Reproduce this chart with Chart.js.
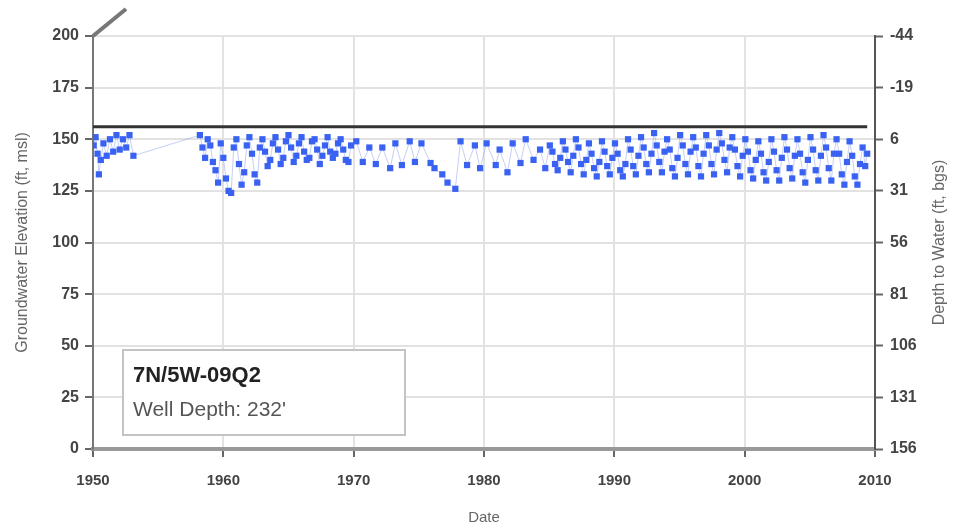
<!DOCTYPE html>
<html>
<head>
<meta charset="utf-8">
<script src="https://cdn.jsdelivr.net/npm/chart.js@4.4.0/dist/chart.umd.min.js"></script>
<style>
  html, body { margin: 0; padding: 0; background: #fff; }
</style>
</head>
<body>
<canvas id="wellChart" width="953" height="529"></canvas>
<script>
// well info
const wellName = '7N/5W-09Q2';
const wellDepth = "232'";

// axis ticks
const yearTicks = [1950, 1960, 1970, 1980, 1990, 2000, 2010];
const elevTicks = [0, 25, 50, 75, 100, 125, 150, 175, 200];
const depthTicks = [-44, -19, 6, 31, 56, 81, 106, 131, 156];

// ground surface elevation (ft, msl)
const groundDates = [1950, 2009.4];
const groundElev = [156, 156];

// measurement dates (decimal years)
const sampleDates = [
  1950.05, 1950.2, 1950.35, 1950.45, 1950.6, 1950.8, 1951.05, 1951.3, 1951.55, 1951.8, 1952.05, 1952.3, 1952.55, 1952.8, 1953.1,
  1958.2, 1958.4, 1958.6, 1958.8,
  1959.0, 1959.2, 1959.4, 1959.6, 1959.8,
  1960.0, 1960.2, 1960.4, 1960.6, 1960.8,
  1961.0, 1961.2, 1961.4, 1961.6, 1961.8,
  1962.0, 1962.2, 1962.4, 1962.6, 1962.8,
  1963.0, 1963.2, 1963.4, 1963.6, 1963.8,
  1964.0, 1964.2, 1964.4, 1964.6, 1964.8,
  1965.0, 1965.2, 1965.4, 1965.6, 1965.8,
  1966.0, 1966.2, 1966.4, 1966.6, 1966.8,
  1967.0, 1967.2, 1967.4, 1967.6, 1967.8,
  1968.0, 1968.2, 1968.4, 1968.6, 1968.8,
  1969.0, 1969.2, 1969.4, 1969.6, 1969.8,
  1970.2, 1970.7, 1971.2, 1971.7, 1972.2, 1972.8, 1973.2, 1973.7, 1974.3, 1974.7,
  1975.2, 1975.9, 1976.2, 1976.8, 1977.2, 1977.8,
  1978.2, 1978.7, 1979.3, 1979.7, 1980.2, 1980.9, 1981.2, 1981.8, 1982.2, 1982.8,
  1983.2, 1983.8, 1984.3, 1984.7,
  1985.05, 1985.25, 1985.45, 1985.65, 1985.85,
  1986.05, 1986.25, 1986.45, 1986.65, 1986.85,
  1987.05, 1987.25, 1987.45, 1987.65, 1987.85,
  1988.05, 1988.25, 1988.45, 1988.65, 1988.85,
  1989.05, 1989.25, 1989.45, 1989.65, 1989.85,
  1990.05, 1990.25, 1990.45, 1990.65, 1990.85,
  1991.05, 1991.25, 1991.45, 1991.65, 1991.85,
  1992.05, 1992.25, 1992.45, 1992.65, 1992.85,
  1993.05, 1993.25, 1993.45, 1993.65, 1993.85,
  1994.05, 1994.25, 1994.45, 1994.65, 1994.85,
  1995.05, 1995.25, 1995.45, 1995.65, 1995.85,
  1996.05, 1996.25, 1996.45, 1996.65, 1996.85,
  1997.05, 1997.25, 1997.45, 1997.65, 1997.85,
  1998.05, 1998.25, 1998.45, 1998.65, 1998.85,
  1999.05, 1999.25, 1999.45, 1999.65, 1999.85,
  2000.05, 2000.25, 2000.45, 2000.65, 2000.85,
  2001.05, 2001.25, 2001.45, 2001.65, 2001.85,
  2002.05, 2002.25, 2002.45, 2002.65, 2002.85,
  2003.05, 2003.25, 2003.45, 2003.65, 2003.85,
  2004.05, 2004.25, 2004.45, 2004.65, 2004.85,
  2005.05, 2005.25, 2005.45, 2005.65, 2005.85,
  2006.05, 2006.25, 2006.45, 2006.65, 2006.85,
  2007.05, 2007.25, 2007.45, 2007.65, 2007.85,
  2008.05, 2008.25, 2008.45, 2008.65, 2008.85,
  2009.05, 2009.25, 2009.4
];

// groundwater elevation (ft, msl)
const waterElev = [
  147, 151, 143, 133, 140, 148, 142, 150, 144, 152, 145, 150, 146, 152, 142,
  152, 146, 141, 150,
  147, 139, 135, 129, 148,
  141, 131, 125, 124, 146,
  150, 138, 128, 134, 147,
  151, 143, 133, 129, 146,
  150, 144, 137, 140, 148,
  151, 145, 138, 141, 149,
  152, 146, 139, 142, 148,
  151, 144, 140, 141, 149,
  150, 145, 138, 142, 147,
  151, 144, 141, 143, 148,
  150, 145, 140, 139, 147,
  149, 139, 146, 138, 146, 136, 148, 137.5, 149, 139,
  148, 138.5, 136, 133, 129, 126,
  149, 137.5, 147, 136, 148, 137.5, 145, 134, 148, 138.5,
  150, 140, 145, 136,
  147, 144, 138, 135, 141,
  149, 145, 139, 134, 142,
  150, 146, 138, 133, 140,
  148, 143, 136, 132, 139,
  149, 144, 137, 133, 141,
  148, 143, 135, 132, 138,
  150, 145, 137, 133, 142,
  151, 146, 138, 134, 143,
  153, 147, 139, 134, 144,
  150, 145, 136, 132, 141,
  152, 147, 138, 133, 144,
  151, 146, 137, 132, 143,
  152, 147, 138, 133, 145,
  153, 148, 140, 134, 146,
  151, 145, 137, 132, 142,
  150, 144, 135, 131, 140,
  149, 143, 134, 130, 139,
  150, 144, 135, 130, 141,
  151, 145, 136, 131, 142,
  150, 143, 134, 129, 140,
  151, 145, 135, 130, 142,
  152, 146, 136, 130, 143,
  150, 143, 133, 128, 139,
  149, 142, 132, 128, 138,
  146, 137, 143
];

const fontFamily = '"Liberation Sans", Arial, sans-serif';

// box with well name, right axis title, break mark
const chartDecor = {
  id: 'chartDecor',
  afterDraw(chart) {
    const { ctx, chartArea: a } = chart;
    ctx.save();

    // little slash at the top of the left axis
    ctx.strokeStyle = '#777';
    ctx.lineWidth = 4;
    ctx.beginPath();
    ctx.moveTo(a.left, a.top);
    ctx.lineTo(a.left + 33, a.top - 27);
    ctx.stroke();

    // well label box
    const bx = a.left + 30, by = a.top + 314, bw = 282, bh = 85;
    ctx.fillStyle = '#fff';
    ctx.fillRect(bx, by, bw, bh);
    ctx.strokeStyle = '#c4c4c4';
    ctx.lineWidth = 2;
    ctx.strokeRect(bx, by, bw, bh);
    ctx.textBaseline = 'middle';
    ctx.textAlign = 'left';
    ctx.fillStyle = '#222';
    ctx.font = 'bold 22px ' + fontFamily;
    ctx.fillText(wellName, bx + 10, by + 26);
    ctx.fillStyle = '#555';
    ctx.font = '21px ' + fontFamily;
    ctx.fillText('Well Depth: ' + wellDepth, bx + 10, by + 60);

    // right axis title, reads bottom to top
    ctx.translate(940, (a.top + a.bottom) / 2);
    ctx.rotate(-Math.PI / 2);
    ctx.textAlign = 'center';
    ctx.fillStyle = '#666';
    ctx.font = '16px ' + fontFamily;
    ctx.fillText('Depth to Water (ft, bgs)', 0, 0);
    ctx.restore();
  }
};

const elevPoints = sampleDates.map((d, i) => ({ x: d, y: waterElev[i] }));
const groundPoints = groundDates.map((d, i) => ({ x: d, y: groundElev[i] }));

new Chart(document.getElementById('wellChart'), {
  type: 'scatter',
  data: {
    datasets: [
      {
        label: 'Ground surface',
        data: groundPoints,
        showLine: true,
        borderColor: '#333',
        borderWidth: 3,
        pointRadius: 0
      },
      {
        label: wellName,
        data: elevPoints,
        showLine: true,
        borderColor: 'rgba(140,160,235,0.5)',
        borderWidth: 1,
        pointStyle: 'rect',
        pointRadius: 4.4,
        pointBackgroundColor: '#3a62f2',
        pointBorderWidth: 0
      }
    ]
  },
  options: {
    responsive: false,
    animation: false,
    layout: { padding: { top: 36, left: 0, right: 0, bottom: 0 } },
    plugins: { legend: { display: false }, tooltip: { enabled: false } },
    scales: {
      x: {
        type: 'linear',
        min: 1950,
        max: 2010,
        afterBuildTicks: s => { s.ticks = yearTicks.map(v => ({ value: v })); },
        afterFit: s => { s.height = 80; },
        grid: { color: '#e2e2e2', lineWidth: 2, tickColor: '#666', tickLength: 8, tickWidth: 2 },
        border: { color: '#999', width: 4 },
        ticks: {
          padding: 15,
          color: '#444',
          font: { family: fontFamily, size: 15, weight: 'bold' },
          callback: v => String(v)
        },
        title: {
          display: true,
          text: 'Date',
          color: '#666',
          font: { family: fontFamily, size: 15 },
          padding: { top: 4, bottom: 2 }
        }
      },
      y: {
        min: 0,
        max: 200,
        afterBuildTicks: s => { s.ticks = elevTicks.map(v => ({ value: v })); },
        afterFit: s => { s.width = 93; },
        grid: { color: '#e2e2e2', lineWidth: 2, tickColor: '#666', tickLength: 8, tickWidth: 2 },
        border: { color: '#777', width: 2 },
        ticks: {
          padding: 6,
          color: '#444',
          font: { family: fontFamily, size: 16, weight: 'bold' }
        },
        title: {
          display: true,
          text: 'Groundwater Elevation (ft, msl)',
          color: '#666',
          font: { family: fontFamily, size: 16 },
          padding: { top: 13, bottom: 0 }
        }
      },
      y2: {
        position: 'right',
        min: -44,
        max: 156,
        reverse: true,
        afterBuildTicks: s => { s.ticks = depthTicks.map(v => ({ value: v })); },
        afterFit: s => { s.width = 78; },
        grid: { drawOnChartArea: false, tickColor: '#666', tickLength: 8, tickWidth: 2 },
        border: { color: '#555', width: 2 },
        ticks: {
          padding: 7,
          color: '#444',
          font: { family: fontFamily, size: 16, weight: 'bold' }
        }
      }
    }
  },
  plugins: [chartDecor]
});
</script>
</body>
</html>
